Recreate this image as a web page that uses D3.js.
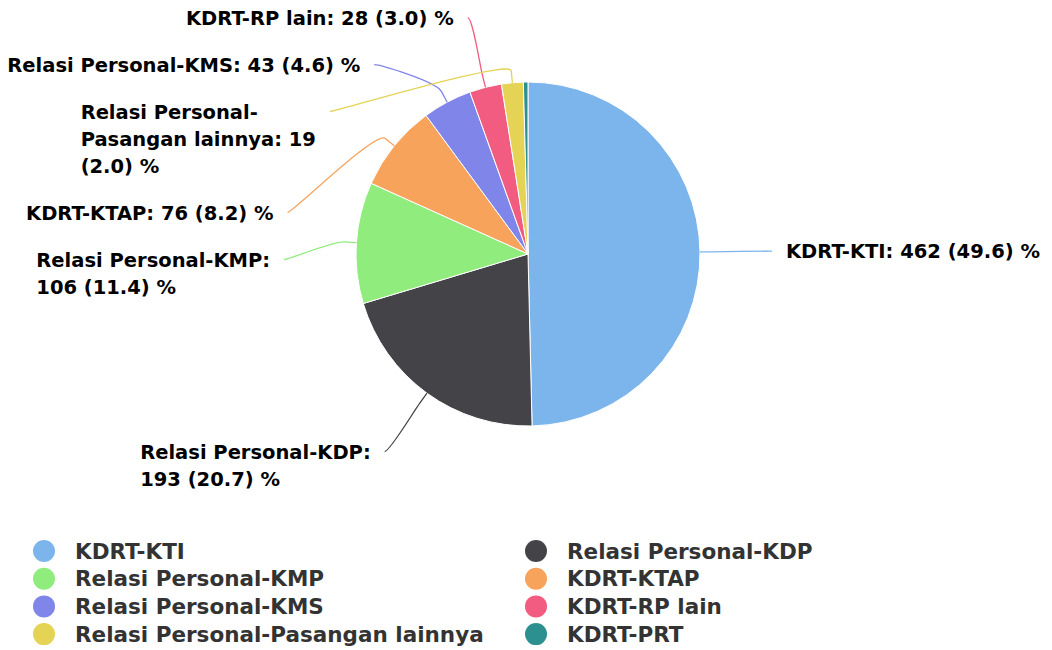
<!DOCTYPE html>
<html>
<head>
<meta charset="utf-8">
<script src="https://cdn.jsdelivr.net/npm/d3@7"></script>
<style>
  body { margin: 0; background: #fff; }
  svg { display: block; font-family: "DejaVu Sans", Verdana, sans-serif; }
</style>
</head>
<body>
<div id="chart"></div>
<script>
// slices, clockwise from 12 o'clock
var names = ["KDRT-KTI", "Relasi Personal-KDP", "Relasi Personal-KMP", "KDRT-KTAP",
  "Relasi Personal-KMS", "KDRT-RP lain", "Relasi Personal-Pasangan lainnya", "KDRT-PRT"];
var counts = [462, 193, 106, 76, 43, 28, 19, 4];
var colors = ["#7cb5ec", "#434348", "#90ed7d", "#f7a35c", "#8085e9", "#f15c80", "#e4d354", "#2b908f"];
// order the left hand labels are stacked in, top to bottom
var leftLabelOrder = [5, 4, 6, 3, 2, 1];

var width = 1052, height = 650;
var cx = 528, cy = 254, radius = 172;
var labelRadius = 244;      // where connectors end
var breakOffset = 12;       // radial bit of the connector
var textPad = 14;
var labelGap = 20, lineHeight = 27;
var wrapWidth = 260;
var minShare = 0.01;        // tiny slices get no label

var total = d3.sum(counts);
var color = d3.scaleOrdinal(names, colors);

var svg = d3.select("#chart").append("svg")
    .attr("width", width)
    .attr("height", height);

svg.append("rect").attr("width", width).attr("height", height).attr("fill", "#fff");

var pie = d3.pie().sort(null).value(function(d) { return d.count; });
var arc = d3.arc().innerRadius(0).outerRadius(radius);

var data = names.map(function(n, i) { return { name: n, count: counts[i], index: i }; });
var arcs = pie(data);

var g = svg.append("g").attr("transform", "translate(" + cx + "," + cy + ")");
g.selectAll("path.slice")
  .data(arcs)
  .enter().append("path")
    .attr("class", "slice")
    .attr("d", arc)
    .attr("fill", function(d) { return color(d.data.name); })
    .attr("stroke", "#fff")
    .attr("stroke-width", 1)
    .attr("stroke-linejoin", "round");

// ---- data labels ----
function polar(a, r) { return [cx + r * Math.sin(a), cy - r * Math.cos(a)]; }
function midAngle(d) { return (d.startAngle + d.endAngle) / 2; }

var measurer = svg.append("text")
    .attr("font-size", "19.5px").attr("font-weight", "bold")
    .attr("visibility", "hidden");
function textWidth(s) { measurer.text(s); return measurer.node().getComputedTextLength(); }

function wrap(text, maxW) {
  var tokens = text.match(/[^\s-]+-?\s*/g);
  var lines = [], line = "";
  tokens.forEach(function(t) {
    var test = line + t;
    if (line && textWidth(test.trim()) > maxW) {
      lines.push(line.trim());
      line = t;
    } else {
      line = test;
    }
  });
  if (line) lines.push(line.trim());
  return lines;
}

var labels = arcs.filter(function(d) { return d.data.count / total >= minShare; }).map(function(d) {
  var a = midAngle(d);
  var pct = (d.data.count / total * 100).toFixed(1);
  return {
    d: d,
    angle: a,
    left: Math.sin(a) < 0,
    text: d.data.name + ": " + d.data.count + " (" + pct + ") %",
    target: cy - labelRadius * Math.cos(a)
  };
});

function xAt(y, left) {
  var dy = y - cy;
  var dx = Math.sqrt(Math.max(0, labelRadius * labelRadius - dy * dy));
  return left ? cx - dx : cx + dx;
}

// right side: at natural position
labels.filter(function(l) { return !l.left; }).forEach(function(l) {
  l.y = l.target;
  l.x = xAt(l.y, false);
  l.lines = [l.text];
});

// left side: stack in the chosen order
var prevBottom = null;
leftLabelOrder.forEach(function(idx) {
  var l = labels.find(function(o) { return o.d.data.index === idx; });
  if (!l) return;
  var y = prevBottom === null ? Math.max(l.target, lineHeight / 2) : Math.max(l.target, prevBottom + labelGap + lineHeight / 2);
  var avail = xAt(y, true) - textPad;
  l.lines = textWidth(l.text) > avail ? wrap(l.text, Math.min(wrapWidth, avail)) : [l.text];
  l.y = y;
  l.x = xAt(l.y, true);
  prevBottom = l.y - lineHeight / 2 + l.lines.length * lineHeight;
});

var lg = svg.append("g");
labels.forEach(function(l) {
  var touch = polar(l.angle, radius);
  var brk = polar(l.angle, radius + breakOffset);
  var ctrl = [2 * brk[0] - touch[0], 2 * brk[1] - touch[1]];
  var c1x = l.left ? l.x + 5 : l.x - 5;
  var path = d3.path();
  path.moveTo(l.x, l.y);
  path.bezierCurveTo(c1x, l.y, ctrl[0], ctrl[1], brk[0], brk[1]);
  path.lineTo(touch[0], touch[1]);
  lg.append("path")
    .attr("d", path.toString())
    .attr("fill", "none")
    .attr("stroke", color(l.d.data.name))
    .attr("stroke-width", 1.3);

  var widest = d3.max(l.lines, textWidth);
  var tx = l.left ? l.x - textPad - widest : l.x + textPad;
  var t = lg.append("text")
    .attr("font-size", "19.5px")
    .attr("font-weight", "bold")
    .attr("fill", "#000");
  l.lines.forEach(function(s, i) {
    t.append("tspan")
      .attr("x", tx)
      .attr("y", l.y + i * lineHeight)
      .attr("dy", "0.36em")
      .text(s);
  });
});
measurer.remove();

// ---- legend ----
var legendCols = [44, 536];
var legendTop = 551, legendStep = 27.7;
var legend = svg.append("g");
var items = legend.selectAll("g.item")
  .data(names)
  .enter().append("g")
    .attr("class", "item")
    .attr("transform", function(d, i) {
      return "translate(" + legendCols[i % 2] + "," + (legendTop + Math.floor(i / 2) * legendStep) + ")";
    });
items.append("circle")
    .attr("r", 11)
    .attr("fill", function(d) { return color(d); });
items.append("text")
    .attr("x", 31)
    .attr("dy", "0.36em")
    .attr("font-size", "21.5px")
    .attr("font-weight", "bold")
    .attr("fill", "#333")
    .text(function(d) { return d; });
</script>
</body>
</html>
